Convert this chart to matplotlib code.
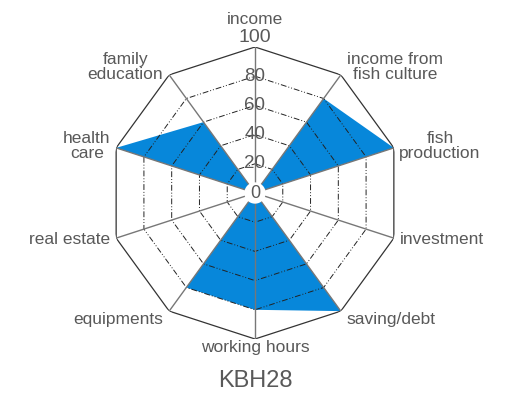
import numpy as np
import matplotlib
matplotlib.use("Agg")
import matplotlib.pyplot as plt

plt.rcParams['font.family'] = ['Liberation Sans', 'DejaVu Sans']

categories = ["income", "income from\nfish culture", "fish\nproduction", "investment",
              "saving/debt", "working hours", "equipments", "real estate",
              "health\ncare", "family\neducation"]
values = [0, 80, 100, 0, 100, 80, 80, 0, 100, 60]
ticks = [0, 20, 40, 60, 80, 100]
title = "KBH28"

fill_color = "#0787DA"
text_color = "#595959"

W, H = 508, 394
fig = plt.figure(figsize=(W / 100, H / 100), dpi=100)
cx, cy, R = 255, 193, 146
ax = fig.add_axes([(cx - R) / W, (H - cy - R) / H, 2 * R / W, 2 * R / H], projection='polar')
ax.set_theta_zero_location('N')
ax.set_theta_direction(-1)
ax.set_ylim(0, 100)
ax.axis('off')

n = len(categories)
theta = np.linspace(0, 2 * np.pi, n, endpoint=False)
tc = np.append(theta, theta[0])
vc = np.append(values, values[0])

ax.fill(tc, vc, color=fill_color, lw=0, zorder=1)

for lv in ticks[1:-1]:
    ax.plot(tc, [lv] * (n + 1), color='#222222', lw=0.7,
            ls=(0, (6, 2, 1, 2, 1, 2)), zorder=2)
ax.plot(tc, [ticks[-1]] * (n + 1), color='#333333', lw=0.9, zorder=3)
for t in theta:
    ax.plot([t, t], [0, 100], color='#777777', lw=1.0, zorder=3)

FS = 12.5
for lv in ticks:
    if lv == 0:
        ax.text(0, 0, "0", ha='center', va='center', fontsize=13, color=text_color,
                zorder=5, bbox=dict(boxstyle='circle,pad=0.12', fc='white', ec='none'))
    elif lv == 100:
        ax.text(0, lv + 1, str(lv), ha='center', va='bottom', fontsize=14,
                color=text_color, zorder=5, clip_on=False)
    else:
        ax.text(0, lv, str(lv), ha='center', va='center', fontsize=13.5,
                color=text_color, zorder=5)

for t, lab in zip(theta, categories):
    s = np.sin(t)
    c = np.cos(t)
    if abs(s) < 1e-6:
        if c > 0:
            ax.text(t, 119, lab, ha='center', va='center', fontsize=FS,
                    color=text_color, clip_on=False)
        else:
            ax.text(t, 106, lab, ha='center', va='center', fontsize=FS,
                    color=text_color, clip_on=False)
        continue
    ha = 'left' if s > 0 else 'right'
    r = 104
    if abs(c) > 0.7:
        r = 107
    ax.text(t, r, lab, ha=ha, va='center', fontsize=FS, color=text_color,
            multialignment='center', clip_on=False, linespacing=1.0)

fig.text(cx / W, 1 - 381 / H, title, ha='center', va='center', fontsize=17,
         color=text_color)

fig.savefig("out.png", dpi=100)
